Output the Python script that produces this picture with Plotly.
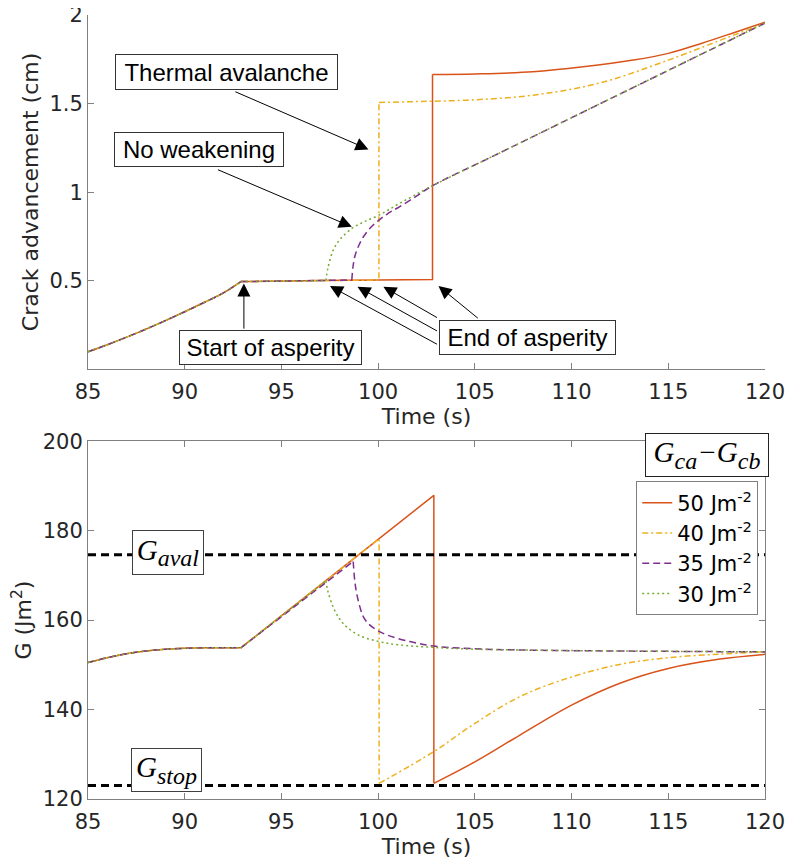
import plotly.graph_objects as go
from plotly.subplots import make_subplots

# ---- crack advancement (cm) ----
# loading ramp before the asperity, shared by every run
t_ramp = [85, 86, 87, 88, 89, 90, 91, 92, 92.9]
a_ramp = [0.100, 0.140, 0.183, 0.228, 0.276, 0.326, 0.378, 0.432, 0.496]

# per run: sharp part (asperity plateau and jump), then smooth part
t50_lin = [92.9, 95, 97, 100, 102.81, 102.81]
a50_lin = [0.496, 0.500, 0.502, 0.505, 0.508, 1.665]
t50_spl = [102.81, 105, 108, 110.6, 113.2, 115, 116.7, 118.5, 120]
a50_spl = [1.665, 1.668, 1.680, 1.708, 1.746, 1.784, 1.840, 1.905, 1.960]

t40_lin = [92.9, 95, 97, 100.04, 100.04]
a40_lin = [0.496, 0.500, 0.502, 0.505, 1.507]
t40_spl = [100.04, 102, 104.6, 108, 111.5, 115, 117.5, 120]
a40_spl = [1.507, 1.512, 1.520, 1.548, 1.618, 1.746, 1.850, 1.955]

t35_lin = [92.9, 95, 97, 98.64]
a35_lin = [0.496, 0.500, 0.502, 0.505]
t35_spl = [98.64, 98.70, 98.81, 99.0, 99.24, 99.6, 100.04, 100.5, 101.1, 102, 102.81, 106, 110, 115, 120]
a35_spl = [0.505, 0.580, 0.645, 0.700, 0.749, 0.800, 0.843, 0.880, 0.918, 0.980, 1.037, 1.207, 1.421, 1.688, 1.955]

t30_lin = [92.9, 95, 97.3]
a30_lin = [0.496, 0.500, 0.502]
t30_spl = [97.3, 97.4, 97.68, 98.0, 98.64, 99.3, 100.04, 101.1, 102.81, 106, 110, 115, 120]
a30_spl = [0.502, 0.570, 0.674, 0.730, 0.796, 0.835, 0.871, 0.937, 1.037, 1.207, 1.421, 1.688, 1.955]

# ---- energy release rate G (J m^-2) ----
gt_ramp = [85, 86, 87, 88, 89, 90, 91, 92, 92.9]
g_ramp = [150.5, 151.6, 152.5, 153.1, 153.5, 153.7, 153.8, 153.8, 153.8]

gt50_lin = [92.9, 102.88, 102.88]
g50_lin = [153.8, 187.9, 123.5]
gt50_spl = [102.88, 105, 107.33, 110, 112.5, 115, 117.68, 120]
g50_spl = [123.5, 128.3, 134.3, 141.0, 145.9, 149.2, 151.3, 152.35]

gt40_lin = [92.9, 100.05, 100.05]
g40_lin = [153.8, 178.2, 123.5]
gt40_spl = [100.05, 102.88, 105, 107.33, 110, 112.5, 115, 117.68, 120]
g40_spl = [123.5, 130.6, 136.9, 142.9, 147.3, 150.1, 151.6, 152.4, 152.9]

gt35_lin = [92.9, 98.71]
g35_lin = [153.8, 173.1]
gt35_spl = [98.71, 98.8, 98.9, 99.06, 99.23, 99.5, 99.92, 100.5, 101.64, 102.88, 105, 107.7, 112, 120]
g35_spl = [173.1, 168.5, 165.8, 162.9, 160.8, 159.2, 157.8, 156.6, 155.2, 154.2, 153.6, 153.3, 153.1, 152.9]

gt30_lin = [92.9, 97.3]
g30_lin = [153.8, 168.8]
gt30_spl = [97.3, 97.4, 97.67, 98.0, 98.37, 99.06, 100.05, 101, 102.88, 105, 110, 120]
g30_spl = [168.8, 166.5, 163.0, 160.3, 158.5, 156.5, 155.2, 154.5, 153.9, 153.5, 153.2, 152.9]

G_aval = 174.6
G_stop = 123.0

labels = ["50 Jm<sup>-2</sup>", "40 Jm<sup>-2</sup>", "35 Jm<sup>-2</sup>", "30 Jm<sup>-2</sup>"]
colors = ["#D95319", "#EDB120", "#7E2F8E", "#77AC30"]
dashes = ["solid", "6px,3px,2px,3px", "7px,4px", "2px,3px"]

top_runs = [
    (t50_lin, a50_lin, t50_spl, a50_spl),
    (t40_lin, a40_lin, t40_spl, a40_spl),
    (t35_lin, a35_lin, t35_spl, a35_spl),
    (t30_lin, a30_lin, t30_spl, a30_spl),
]
bot_runs = [
    (gt50_lin, g50_lin, gt50_spl, g50_spl),
    (gt40_lin, g40_lin, gt40_spl, g40_spl),
    (gt35_lin, g35_lin, gt35_spl, g35_spl),
    (gt30_lin, g30_lin, gt30_spl, g30_spl),
]

fig = make_subplots(rows=2, cols=1, shared_xaxes=False)


def add_run(i, ramp, run, row, legend):
    pieces = [(ramp[0], ramp[1], "spline"), (run[0], run[1], "linear"), (run[2], run[3], "spline")]
    for k, (x, y, shape) in enumerate(pieces):
        fig.add_trace(go.Scatter(
            x=x, y=y, mode="lines", name=labels[i], legendgroup=labels[i],
            showlegend=legend and k == 0,
            line=dict(color=colors[i], width=1.5, dash=dashes[i], shape=shape, smoothing=1)
        ), row=row, col=1)


for i, run in enumerate(top_runs):
    add_run(i, (t_ramp, a_ramp), run, 1, False)
for i, run in enumerate(bot_runs):
    add_run(i, (gt_ramp, g_ramp), run, 2, True)

for level in [G_aval, G_stop]:
    fig.add_trace(go.Scatter(
        x=[85, 120], y=[level, level], mode="lines", showlegend=False,
        line=dict(color="black", width=3, dash="8px,5px")
    ), row=2, col=1)

axis_col = "#808080"
txt_col = "#262626"
common_axis = dict(
    showline=True, linecolor=axis_col, linewidth=1, showgrid=False, zeroline=False,
    ticks="inside", ticklen=6, tickcolor=axis_col, automargin=False,
    ticklabeloverflow="allow",
    tickfont=dict(size=21, color=txt_col), title_font=dict(size=22, color=txt_col)
)

fig.update_xaxes(range=[85, 120], tickvals=[85, 90, 95, 100, 105, 110, 115, 120],
                 title_text="Time (s)", title_standoff=4, ticklabelstandoff=4, **common_axis)
fig.update_xaxes(mirror=False, row=1, col=1)
fig.update_xaxes(mirror="ticks", row=2, col=1)
fig.update_yaxes(range=[0.003, 2.0005], tickvals=[0.5, 1, 1.5, 2], ticktext=["0.5", "1", "1.5", "2"],
                 title_text="Crack advancement (cm)", title_standoff=4, row=1, col=1, **common_axis)
fig.update_yaxes(range=[120, 200], tickvals=[120, 140, 160, 180, 200],
                 title_text="G (Jm<sup>2</sup>)", title_standoff=5, mirror="ticks",
                 row=2, col=1, **common_axis)

# the page adds an 8px body margin, so the figure is sized and placed to compensate
fig.update_layout(
    width=785, height=855,
    margin=dict(l=80, r=28, t=7, b=64),
    plot_bgcolor="white", paper_bgcolor="white",
    font=dict(family="DejaVu Sans", color=txt_col),
    xaxis=dict(domain=[0, 1]), yaxis=dict(domain=[0.5485, 1]),
    xaxis2=dict(domain=[0, 1]), yaxis2=dict(domain=[0, 0.4563]),
    legend=dict(x=0.990, y=0.405, xanchor="right", yanchor="top",
                bgcolor="white", bordercolor=axis_col, borderwidth=1,
                font=dict(size=21, color="black", family="DejaVu Sans"),
                itemwidth=30, traceorder="grouped", tracegroupgap=0),
)

box_font = dict(family="Liberation Sans", size=24, color="black")
boxes = [
    ("Thermal avalanche", 92.15, 1.678, 223, 36),
    ("No weakening", 90.74, 1.239, 170, 35),
    ("Start of asperity", 94.44, 0.123, 183, 35),
    ("End of asperity", 107.70, 0.178, 177, 35),
]
for text, x, y, w, h in boxes:
    fig.add_annotation(x=x, y=y, xref="x", yref="y", text=text, showarrow=False,
                       font=box_font, bgcolor="white", bordercolor="#333333",
                       borderwidth=1, borderpad=1, width=w - 4, height=h - 4)

# arrows: (tip x, tip y, tail x, tail y)
arrows = [
    (99.50, 1.242, 92.54, 1.571),
    (98.64, 0.805, 91.64, 1.131),
    (93.06, 0.486, 93.06, 0.222),
    (100.27, 0.467, 103.12, 0.288),
    (98.93, 0.467, 103.12, 0.213),
    (97.51, 0.471, 103.12, 0.138),
    (103.12, 0.471, 105.23, 0.283),
]
for x, y, ax, ay in arrows:
    fig.add_annotation(x=x, y=y, ax=ax, ay=ay, xref="x", yref="y", axref="x", ayref="y",
                       text="", showarrow=True, arrowhead=2, arrowsize=2.6,
                       arrowwidth=1, arrowcolor="black", standoff=0)

serif = dict(family="Liberation Serif", size=29, color="black")
sub = "<sub><span style='font-size:24px'>%s</span></sub>"
fig.add_annotation(x=89.11, y=175.1, xref="x2", yref="y2",
                   text="<i>G" + sub % "aval" + "</i>", showarrow=False, font=serif,
                   bgcolor="white", bordercolor="#404040", borderwidth=1, borderpad=1,
                   width=68, height=41)
fig.add_annotation(x=89.08, y=126.5, xref="x2", yref="y2",
                   text="<i>G" + sub % "stop" + "</i>", showarrow=False, font=serif,
                   bgcolor="white", bordercolor="#404040", borderwidth=1, borderpad=1,
                   width=67, height=40)
fig.add_annotation(x=0.915, y=0.439, xref="paper", yref="paper",
                   xanchor="center", yanchor="middle",
                   text="<i>G" + sub % "ca" + "−G" + sub % "cb" + "</i>", showarrow=False,
                   font=serif, bgcolor="white", bordercolor="#222222", borderwidth=1,
                   borderpad=1, width=120, height=40)

fig.write_html("out.html")
